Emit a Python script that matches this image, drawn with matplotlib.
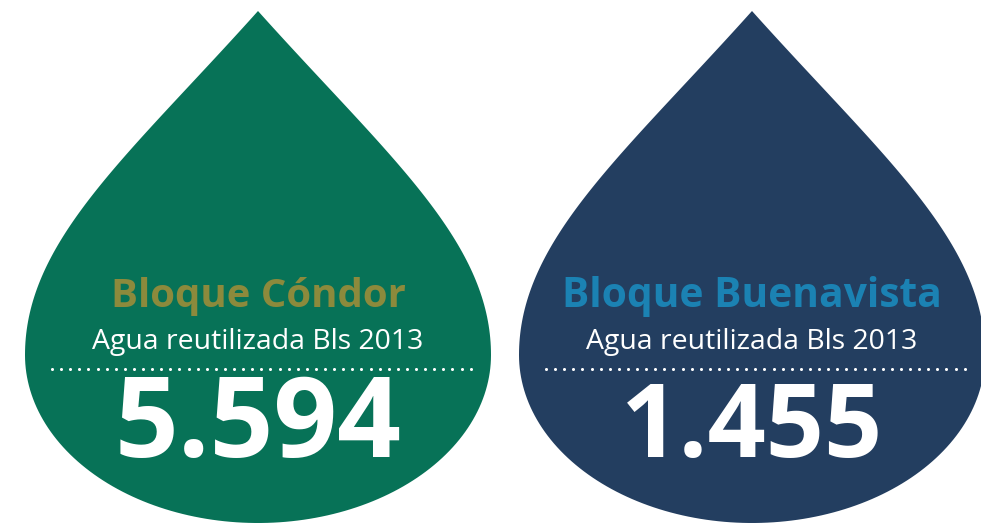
import numpy as np
import matplotlib
matplotlib.use("Agg")
import matplotlib.pyplot as plt
from matplotlib.path import Path
from matplotlib.patches import PathPatch

# datos
bloques = ["Bloque Cóndor", "Bloque Buenavista"]
subtitulos = ["Agua reutilizada Bls 2013", "Agua reutilizada Bls 2013"]
valores = ["5.594", "1.455"]
color_gota = ["#077257", "#233e60"]
color_titulo = ["#8c8a3c", "#1b82b3"]

centros = [258, 752]

fig = plt.figure(figsize=(9.81, 5.27), dpi=100)
ax = fig.add_axes([0, 0, 1, 1])
ax.set_xlim(0, 981)
ax.set_ylim(527, 0)
ax.axis("off")


def gota(cx, top=11, mid=355, bottom=523, hw=233):
    # mitad superior: bezier desde la punta hasta el punto más ancho
    dy = mid - top
    t = np.linspace(0, 1, 80)
    p = np.array([[0, 0], [130, 145], [hw, 230], [hw, dy]], dtype=float)
    b = ((1 - t) ** 3)[:, None] * p[0] + (3 * (1 - t) ** 2 * t)[:, None] * p[1] \
        + (3 * (1 - t) * t ** 2)[:, None] * p[2] + (t ** 3)[:, None] * p[3]
    right = np.column_stack([cx + b[:, 0], top + b[:, 1]])
    # mitad inferior: elipse
    a = np.linspace(0, np.pi, 120)
    low = np.column_stack([cx + hw * np.cos(a), mid + (bottom - mid) * np.sin(a)])
    left = np.column_stack([cx - b[::-1, 0], top + b[::-1, 1]])
    pts = np.vstack([right, low, left])
    return Path(pts, closed=False)


def ajustar(txt, ancho):
    fig.canvas.draw()
    r = fig.canvas.get_renderer()
    w = txt.get_window_extent(r).width
    txt.set_fontsize(txt.get_fontsize() * ancho / w)


for i in range(2):
    cx = centros[i]
    ax.add_patch(PathPatch(gota(cx), facecolor=color_gota[i], edgecolor="none"))

    t1 = ax.text(cx, 307, bloques[i], ha="center", va="baseline", color=color_titulo[i],
                 fontsize=30, fontweight="bold", family="Open Sans")
    t2 = ax.text(cx, 349, subtitulos[i], ha="center", va="baseline", color="white",
                 fontsize=22, family="Open Sans")
    t3 = ax.text(cx, 457, valores[i], ha="center", va="baseline", color="white",
                 fontsize=72, fontweight="bold", family="Open Sans")
    ajustar(t1, [295, 380][i])
    ajustar(t2, 331)
    ajustar(t3, [287, 262][i])

    xs = np.arange(cx - 206, cx + 218, 9.1)
    ax.plot(xs, np.full(len(xs), 369), ls="none", marker="o", ms=2.2,
            color="white", mec="none")

fig.savefig("out.png", dpi=100)
